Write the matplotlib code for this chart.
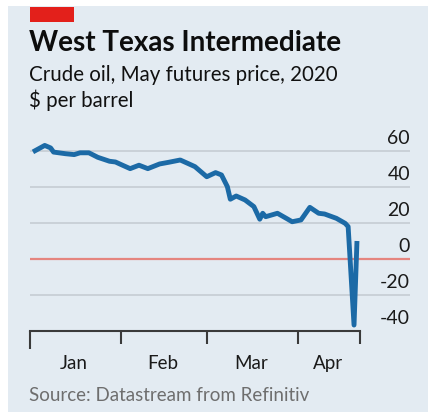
import matplotlib
matplotlib.use("Agg")
import matplotlib.pyplot as plt
import matplotlib.dates as mdates
import matplotlib.transforms as mtransforms
from matplotlib.patches import Rectangle
import pandas as pd

# ---- data ----
dates = ["2020-01-02", "2020-01-06", "2020-01-08", "2020-01-09", "2020-01-13",
         "2020-01-16", "2020-01-18", "2020-01-21", "2020-01-24", "2020-01-28",
         "2020-01-30", "2020-02-01", "2020-02-04", "2020-02-07", "2020-02-10",
         "2020-02-14", "2020-02-17", "2020-02-21", "2020-02-24", "2020-02-26",
         "2020-03-01", "2020-03-04", "2020-03-06", "2020-03-08", "2020-03-09",
         "2020-03-11", "2020-03-14", "2020-03-17", "2020-03-19", "2020-03-20",
         "2020-03-21", "2020-03-25", "2020-03-28", "2020-03-30", "2020-04-02",
         "2020-04-05", "2020-04-08", "2020-04-10", "2020-04-14", "2020-04-17",
         "2020-04-18", "2020-04-20", "2020-04-21"]
prices = [59.5, 63.1, 61.7, 59.4, 58.5,
          58.0, 59.0, 59.0, 56.5, 54.3,
          53.9, 52.4, 50.2, 52.1, 50.2,
          52.8, 53.7, 55.0, 52.8, 51.3,
          45.7, 48.0, 46.7, 40.2, 33.2,
          35.0, 32.8, 29.1, 22.1, 25.4,
          23.5, 25.4, 22.6, 20.7, 21.7,
          28.7, 25.4, 25.0, 22.6, 19.8,
          18.0, -36.7, 10.0]
y_ticks = [60, 40, 20, 0, -20, -40]
month_labels = ["Jan", "Feb", "Mar", "Apr"]
month_label_dates = ["2020-01-16", "2020-02-15", "2020-03-16", "2020-04-11"]
tick_dates = ["2020-01-01", "2020-02-01", "2020-03-01", "2020-04-01", "2020-04-22"]

title = "West Texas Intermediate"
subtitle = "Crude oil, May futures price, 2020"
unit = "$ per barrel"
source = "Source: Datastream from Refinitiv"

# ---- style ----
W, H = 428, 412
BG = "#e3ebf2"
LINE = "#1c6aa6"
GRID = "#c5ccd3"
ZERO = "#e5857f"
FONT = "Lato"

fig = plt.figure(figsize=(W / 100, H / 100), dpi=100)
fig.patch.set_facecolor("white")

def fx(px):
    return px / W

def fy(py):
    return 1 - py / H

# panel background (white strip at top/left)
fig.patches.append(Rectangle((fx(8), 0), 1 - fx(8), fy(6), transform=fig.transFigure,
                             facecolor=BG, edgecolor="none", zorder=-10))
# red tag
fig.patches.append(Rectangle((fx(30), fy(22)), fx(74) - fx(30), fy(7) - fy(22),
                             transform=fig.transFigure, facecolor="#e3201b",
                             edgecolor="none", zorder=-5))

fig.text(fx(29), fy(51), title, fontsize=20, fontweight="bold", family=FONT,
         color="#0d0d0d", va="baseline", ha="left")
fig.text(fx(29), fy(81), subtitle, fontsize=14.8, family=FONT,
         color="#111111", va="baseline", ha="left")
fig.text(fx(29), fy(107), unit, fontsize=14.8, family=FONT,
         color="#111111", va="baseline", ha="left")
fig.text(fx(29), fy(401), source, fontsize=13.5, family=FONT,
         color="#6e6e6e", va="baseline", ha="left")

# axes
ax_left, ax_right = 30, 410
ax_bottom, ax_top = 331, 142
ax = fig.add_axes([fx(ax_left), fy(ax_bottom), fx(ax_right) - fx(ax_left),
                   fy(ax_top) - fy(ax_bottom)])
ax.set_facecolor("none")
ax.set_zorder(5)

x = pd.to_datetime(dates)
x0 = pd.Timestamp("2020-01-01")
x1 = x0 + pd.Timedelta(days=129)
ax.set_xlim(x0, x1)
ax.set_ylim(-40, 65)

for v in y_ticks:
    if v == 0:
        ax.axhline(v, color=ZERO, lw=1.6, zorder=2)
    elif v != -40:
        ax.axhline(v, color=GRID, lw=1.2, zorder=1)
    ax.text(1.0, v + 2.2, f"{v}", transform=mtransforms.blended_transform_factory(ax.transAxes, ax.transData),
            ha="right", va="bottom", fontsize=14, family=FONT, color="#1a1a1a")

ax.plot(x, prices, color=LINE, lw=3.5, solid_joinstyle="round",
        solid_capstyle="butt", zorder=3, clip_on=False)

for s in ["top", "right", "left"]:
    ax.spines[s].set_visible(False)
ax.spines["bottom"].set_color("#3a3a3a")
ax.spines["bottom"].set_linewidth(1.5)
ax.spines["bottom"].set_bounds(mdates.date2num(pd.Timestamp(tick_dates[0])),
                               mdates.date2num(pd.Timestamp(tick_dates[-1])))
ax.set_yticks([])

ax.set_xticks(pd.to_datetime(tick_dates))
ax.set_xticklabels([])
ax.tick_params(axis="x", length=9, width=1.5, color="#3a3a3a", direction="out")
ax.get_xticklines()[0].set_markersize(13)

ax.set_xticks(pd.to_datetime(month_label_dates), minor=True)
ax.set_xticklabels(month_labels, minor=True)
ax.tick_params(axis="x", which="minor", length=0, pad=17, labelsize=13.5,
               labelcolor="#1a1a1a")
for lbl in ax.get_xticklabels(minor=True):
    lbl.set_family(FONT)

fig.savefig("out.png", dpi=100, facecolor="white")
